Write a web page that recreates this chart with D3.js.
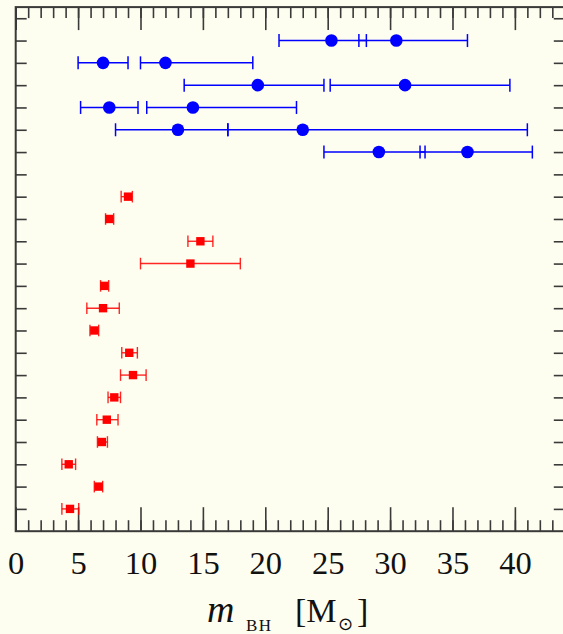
<!DOCTYPE html>
<html>
<head>
<meta charset="utf-8">
<script src="https://cdn.jsdelivr.net/npm/d3@7"></script>
<style>
  html, body { margin: 0; padding: 0; background: #fefef0; }
  svg { display: block; }
</style>
</head>
<body>
<svg id="chart" width="563" height="634"></svg>
<script>
// Gravitational-wave binary black holes: component masses (solar masses)
const gwEvents = ["GW170814", "GW170608", "GW170104", "GW151226", "LVT151012", "GW150914"];
const gwRows   = [1, 2, 3, 4, 5, 6];
const m1       = [30.5, 12.0, 31.2, 14.2, 23.0, 36.2];
const m1Lo     = [27.5, 10.0, 25.2, 10.5, 17.0, 32.4];
const m1Hi     = [36.2, 19.0, 39.6, 22.5, 41.0, 41.4];
const m2       = [25.3,  7.0, 19.4,  7.5, 13.0, 29.1];
const m2Lo     = [21.1,  5.0, 13.5,  5.2,  8.0, 24.7];
const m2Hi     = [28.1,  9.0, 24.7,  9.8, 17.0, 32.8];

// X-ray binary black-hole masses
const xrbRows  = [8, 9, 10, 11, 12, 13, 14, 15, 16, 17, 18, 19, 20, 21, 22];
const xrbMass  = [9.0, 7.5, 14.8, 14.0, 7.1, 7.0, 6.3, 9.1, 9.4, 7.9, 7.3, 6.9, 4.25, 6.65, 4.35];
const xrbLo    = [8.45, 7.2, 13.8, 10.0, 6.8, 5.7, 5.95, 8.5, 8.4, 7.4, 6.5, 6.55, 3.7, 6.3, 3.7];
const xrbHi    = [9.35, 7.85, 15.8, 18.0, 7.45, 8.3, 6.65, 9.75, 10.45, 8.4, 8.2, 7.35, 4.8, 6.97, 5.05];

const xMajorTicks = [0, 5, 10, 15, 20, 25, 30, 35, 40];
const xMinorTicks = d3.range(0, 45, 1);
const rowTicks    = d3.range(0, 23, 1);

const svg = d3.select("#chart");
const x = d3.scaleLinear().domain([0, 44]).range([15.7, 564.8]);
const y = d3.scaleLinear().domain([-0.5, 23]).range([7.1, 531.2]);

const frameL = x(0), frameR = x(44), frameT = y(-0.5), frameB = y(23);
const axisColor = "#3a3a3a";
const serif = "'Liberation Serif', 'DejaVu Serif', serif";

function styleAxis(g) {
  g.select(".domain").remove();
  g.selectAll(".tick line").attr("stroke", axisColor).attr("stroke-width", 1.6);
  g.selectAll(".tick text").remove();
}

// top and bottom ticks (minor + major), pointing inward
svg.append("g").attr("transform", `translate(0,${frameT})`)
  .call(d3.axisBottom(x).tickValues(xMinorTicks).tickSize(11)).call(styleAxis);
svg.append("g").attr("transform", `translate(0,${frameT})`)
  .call(d3.axisBottom(x).tickValues(xMajorTicks).tickSize(23)).call(styleAxis);
svg.append("g").attr("transform", `translate(0,${frameB})`)
  .call(d3.axisTop(x).tickValues(xMinorTicks).tickSize(11)).call(styleAxis);
svg.append("g").attr("transform", `translate(0,${frameB})`)
  .call(d3.axisTop(x).tickValues(xMajorTicks).tickSize(24)).call(styleAxis);

// left and right row ticks
svg.append("g").attr("transform", `translate(${frameL},0)`)
  .call(d3.axisRight(y).tickValues(rowTicks).tickSize(11)).call(styleAxis);
svg.append("g").attr("transform", `translate(${frameR},0)`)
  .call(d3.axisLeft(y).tickValues(rowTicks).tickSize(11)).call(styleAxis);

// frame
svg.append("rect")
  .attr("x", frameL).attr("y", frameT)
  .attr("width", frameR - frameL).attr("height", frameB - frameT)
  .attr("fill", "none").attr("stroke", axisColor).attr("stroke-width", 2);

// tick labels
const labels = svg.append("g").attr("transform", `translate(0,${frameB})`)
  .call(d3.axisBottom(x).tickValues(xMajorTicks).tickSize(0).tickFormat(d3.format("d")));
labels.select(".domain").remove();
labels.selectAll(".tick text")
  .attr("y", 43).attr("dy", 0)
  .attr("fill", "#111")
  .style("font-family", serif)
  .style("font-size", "32.5px");

// axis title: m_BH [M_sun]
const title = svg.append("text")
  .attr("y", 622)
  .attr("fill", "#111")
  .style("font-family", serif)
  .style("font-size", "34px");
title.append("tspan").attr("x", 207).style("font-style", "italic").style("font-size", "38px").text("m");
title.append("tspan").attr("x", 246).attr("y", 631)
  .style("font-size", "17px").style("letter-spacing", "1.5px").text("BH");
title.append("tspan").attr("x", 295).attr("y", 622).text("[M");
title.append("tspan").attr("x", 338).attr("y", 630).style("font-size", "18px")
  .style("font-family", "'DejaVu Sans', sans-serif").text("\u2299");
title.append("tspan").attr("x", 357).attr("y", 622).text("]");

// gravitational-wave events
const blue = "#0000ff";
const gw = gwEvents.map((name, i) => ({ name, row: gwRows[i],
  comps: [ { v: m2[i], lo: m2Lo[i], hi: m2Hi[i] }, { v: m1[i], lo: m1Lo[i], hi: m1Hi[i] } ] }));
const gwG = svg.append("g");
gw.forEach(ev => {
  ev.comps.forEach(c => {
    const cy = y(ev.row);
    gwG.append("line").attr("x1", x(c.lo)).attr("x2", x(c.hi)).attr("y1", cy).attr("y2", cy)
      .attr("stroke", blue).attr("stroke-width", 1.5);
    [c.lo, c.hi].forEach(e => gwG.append("line")
      .attr("x1", x(e)).attr("x2", x(e)).attr("y1", cy - 6.5).attr("y2", cy + 6.5)
      .attr("stroke", blue).attr("stroke-width", 1.5));
    gwG.append("circle").attr("cx", x(c.v)).attr("cy", cy).attr("r", 6.3).attr("fill", blue);
  });
});

// X-ray binaries
const red = "#ff0000";
const xrbG = svg.append("g");
xrbRows.forEach((row, i) => {
  const cy = y(row);
  xrbG.append("line").attr("x1", x(xrbLo[i])).attr("x2", x(xrbHi[i])).attr("y1", cy).attr("y2", cy)
    .attr("stroke", red).attr("stroke-width", 1.4).attr("stroke-opacity", 0.85);
  [xrbLo[i], xrbHi[i]].forEach(e => xrbG.append("line")
    .attr("x1", x(e)).attr("x2", x(e)).attr("y1", cy - 5.8).attr("y2", cy + 5.8)
    .attr("stroke", red).attr("stroke-width", 1.4).attr("stroke-opacity", 0.85));
  xrbG.append("rect").attr("x", x(xrbMass[i]) - 4.2).attr("y", cy - 4.2)
    .attr("width", 8.4).attr("height", 8.4).attr("fill", red);
});
</script>
</body>
</html>
